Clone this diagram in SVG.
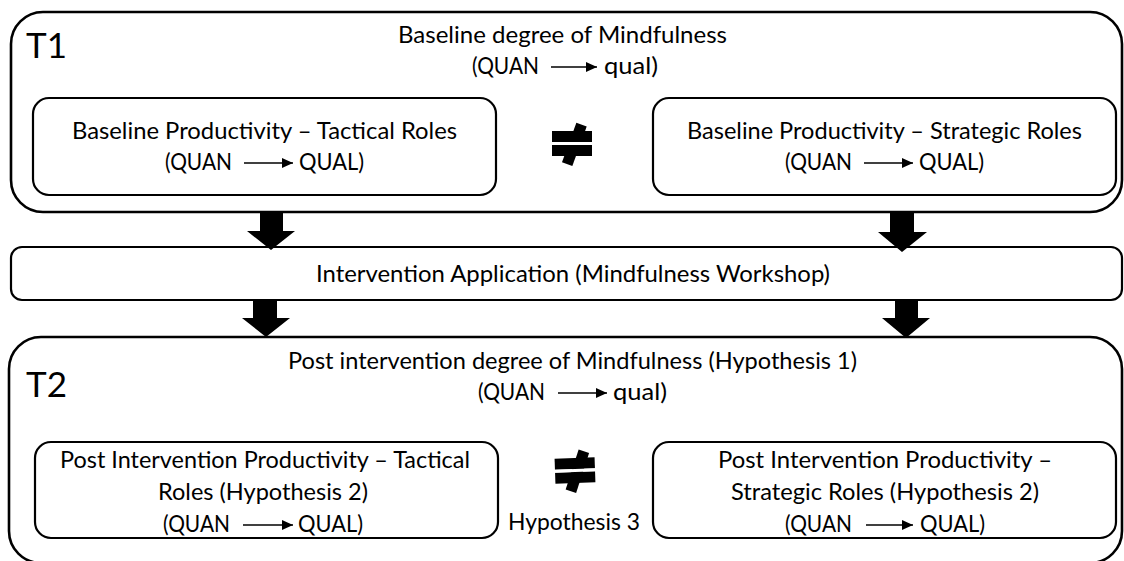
<svg xmlns="http://www.w3.org/2000/svg" width="1124" height="561" viewBox="0 0 1124 561">
  <style>
    .frame { fill: #fff; stroke: #000; stroke-width: 2.6; }
    .box { fill: #fff; stroke: #000; stroke-width: 2.2; }
    .t { font-family: Lato, "Liberation Sans", sans-serif; font-size: 23px; fill: #000; }
    .big { font-family: Lato, "Liberation Sans", sans-serif; font-size: 35px; fill: #000; }
    .flow { stroke: #000; stroke-width: 1.6; fill: none; marker-end: url(#head); }
    .blk { fill: #000; }
  </style>
  <defs>
    <marker id="head" markerUnits="userSpaceOnUse" markerWidth="12" markerHeight="10" refX="11" refY="5" orient="auto">
      <path d="M0,0 L11,5 L0,10 Z" fill="#000"/>
    </marker>
    <!-- "not equal" block sign, centred on 0,0 -->
    <g id="neq">
      <rect x="-3" y="-21" width="11" height="42" transform="rotate(20)" class="blk"/>
      <rect x="-20" y="-12.5" width="40" height="11" class="blk"/>
      <rect x="-20" y="1.5" width="40" height="11" class="blk"/>
      <rect x="-21" y="-1.5" width="42" height="3" fill="#fff"/>
    </g>
  </defs>
  <rect width="1124" height="561" fill="#fff"/>

  <!-- time point 1 -->
  <g id="t1">
    <rect class="frame" x="11" y="12" width="1111" height="200" rx="32"/>
    <text class="big" x="26" y="58">T1</text>
    <text class="t" x="398" y="43" textLength="329" lengthAdjust="spacingAndGlyphs">Baseline degree of Mindfulness</text>
    <text class="t" x="472" y="74" textLength="67" lengthAdjust="spacingAndGlyphs">(QUAN</text>
    <path class="flow" d="M551,67 H597"/>
    <text class="t" x="604" y="74" textLength="54" lengthAdjust="spacingAndGlyphs">qual)</text>
  </g>

  <g id="t1-tactical">
    <rect class="box" x="33" y="98" width="463" height="97" rx="16"/>
    <text class="t" x="72" y="139" textLength="385" lengthAdjust="spacingAndGlyphs">Baseline Productivity – Tactical Roles</text>
    <text class="t" x="165" y="170" textLength="67" lengthAdjust="spacingAndGlyphs">(QUAN</text>
    <path class="flow" d="M244,163 H293"/>
    <text class="t" x="299" y="170" textLength="65" lengthAdjust="spacingAndGlyphs">QUAL)</text>
  </g>

  <g id="t1-neq">
    <use href="#neq" transform="translate(572,143.5)"/>
  </g>

  <g id="t1-strategic">
    <rect class="box" x="653" y="98" width="463" height="97" rx="16"/>
    <text class="t" x="687" y="139" textLength="395" lengthAdjust="spacingAndGlyphs">Baseline Productivity – Strategic Roles</text>
    <text class="t" x="785" y="170" textLength="67" lengthAdjust="spacingAndGlyphs">(QUAN</text>
    <path class="flow" d="M864,163 H913"/>
    <text class="t" x="919" y="170" textLength="65" lengthAdjust="spacingAndGlyphs">QUAL)</text>
  </g>

  <!-- intervention -->
  <g id="intervention">
    <rect class="box" x="11" y="247" width="1111" height="53" rx="11"/>
    <text class="t" x="316" y="282" textLength="514" lengthAdjust="spacingAndGlyphs">Intervention Application (Mindfulness Workshop)</text>
  </g>

  <!-- time point 2 -->
  <g id="t2">
    <rect class="frame" x="9" y="337" width="1113" height="226" rx="32"/>
    <text class="big" x="26" y="397">T2</text>
    <text class="t" x="288" y="369" textLength="569" lengthAdjust="spacingAndGlyphs">Post intervention degree of Mindfulness (Hypothesis 1)</text>
    <text class="t" x="478" y="400" textLength="67" lengthAdjust="spacingAndGlyphs">(QUAN</text>
    <path class="flow" d="M558,393 H607"/>
    <text class="t" x="613" y="400" textLength="54" lengthAdjust="spacingAndGlyphs">qual)</text>
  </g>

  <g id="t2-tactical">
    <rect class="box" x="35" y="442" width="463" height="96" rx="16"/>
    <text class="t" x="60" y="468" textLength="410" lengthAdjust="spacingAndGlyphs">Post Intervention Productivity – Tactical</text>
    <text class="t" x="158" y="500" textLength="210" lengthAdjust="spacingAndGlyphs">Roles (Hypothesis 2)</text>
    <text class="t" x="163" y="532" textLength="67" lengthAdjust="spacingAndGlyphs">(QUAN</text>
    <path class="flow" d="M243,525 H293"/>
    <text class="t" x="298" y="532" textLength="65" lengthAdjust="spacingAndGlyphs">QUAL)</text>
  </g>

  <g id="t2-neq">
    <use href="#neq" transform="translate(575,470.5) rotate(-2)"/>
    <text class="t" x="508" y="530" textLength="132" lengthAdjust="spacingAndGlyphs">Hypothesis 3</text>
  </g>

  <g id="t2-strategic">
    <rect class="box" x="653" y="442" width="463" height="96" rx="16"/>
    <text class="t" x="718" y="468" textLength="334" lengthAdjust="spacingAndGlyphs">Post Intervention Productivity –</text>
    <text class="t" x="731" y="500" textLength="308" lengthAdjust="spacingAndGlyphs">Strategic Roles (Hypothesis 2)</text>
    <text class="t" x="785" y="532" textLength="67" lengthAdjust="spacingAndGlyphs">(QUAN</text>
    <path class="flow" d="M866,525 H913"/>
    <text class="t" x="920" y="532" textLength="65" lengthAdjust="spacingAndGlyphs">QUAL)</text>
  </g>

  <!-- block arrows between stages -->
  <g id="connectors" class="blk">
    <polygon points="260,212 283,212 283,231 295,231 271,250 247,231 260,231"/>
    <polygon points="890,212 914,212 914,232 927,232 902,252 878,232 890,232"/>
    <polygon points="253,300 277,300 277,318 290,318 266,337 242,318 253,318"/>
    <polygon points="895,300 918,300 918,318 930,318 906,338 882,318 895,318"/>
  </g>
</svg>
